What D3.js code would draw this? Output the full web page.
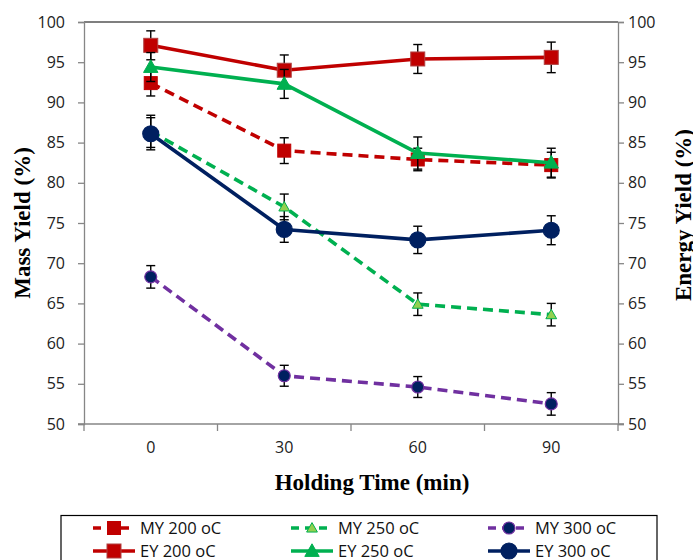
<!DOCTYPE html>
<html><head><meta charset="utf-8">
<script src="https://cdn.jsdelivr.net/npm/d3@7"></script>
<style>body{margin:0;background:#fff}svg{display:block}</style>
</head><body>
<script>
const categories = ["0","30","60","90"];
const yTicks = [50,55,60,65,70,75,80,85,90,95,100];
const seriesNames = ["MY 200 oC","MY 250 oC","MY 300 oC","EY 200 oC","EY 250 oC","EY 300 oC"];
const my200 = [92.4, 84.0, 82.9, 82.2];
const my250 = [86.4, 77.0, 64.9, 63.6];
const my300 = [68.3, 56.0, 54.6, 52.5];
const ey200 = [97.1, 94.0, 95.4, 95.6];
const ey250 = [94.4, 92.3, 83.7, 82.5];
const ey300 = [86.1, 74.2, 72.9, 74.1];
const my200Err = [1.6, 1.6, 1.4, 1.6];
const my250Err = [2.0, 1.6, 1.4, 1.4];
const my300Err = [1.4, 1.3, 1.3, 1.4];
const ey200Err = [1.8, 1.9, 1.8, 1.9];
const ey250Err = [1.8, 1.8, 2.0, 1.8];
const ey300Err = [2.0, 1.6, 1.7, 1.8];

const W = 693, H = 560;
const L = 84, R = 618, T = 22, B = 424;
const svg = d3.select("body").append("svg").attr("width", W).attr("height", H);
const x = d3.scaleBand().domain(categories).range([L, R]).padding(0);
const y = d3.scaleLinear().domain([50, 100]).range([B, T]);
const cx = c => x(c) + x.bandwidth() / 2;
const tickFont = "'Open Sans', sans-serif";
const axisCol = "#868686";

// top border
svg.append("line").attr("x1", L).attr("x2", R).attr("y1", T).attr("y2", T).attr("stroke", "#000").attr("stroke-width", 1.2);

const gl = svg.append("g").attr("transform", `translate(${L},0)`)
  .call(d3.axisLeft(y).tickValues(yTicks).tickSize(6).tickPadding(13));
const gr = svg.append("g").attr("transform", `translate(${R},0)`)
  .call(d3.axisRight(y).tickValues(yTicks).tickSize(6).tickPadding(4));
const gb = svg.append("g").attr("transform", `translate(0,${B})`)
  .call(d3.axisBottom(x).tickSize(0).tickPadding(18));
[gl, gr, gb].forEach(g => {
  g.selectAll("path.domain").attr("stroke", axisCol).attr("stroke-width", 1.3);
  g.selectAll(".tick line").attr("stroke", axisCol).attr("stroke-width", 1.3);
  g.selectAll("text").attr("font-family", tickFont).attr("font-size", 16).attr("fill", "#222");
});
gb.select("path.domain").remove();
svg.append("line").attr("x1", L - 6).attr("x2", R + 6).attr("y1", B).attr("y2", B).attr("stroke", axisCol).attr("stroke-width", 1.3);
const bounds = categories.map(c => x(c)).concat([x(categories[categories.length - 1]) + x.bandwidth()]);
svg.selectAll("line.xt").data(bounds).join("line").attr("class", "xt")
  .attr("x1", d => d).attr("x2", d => d).attr("y1", B).attr("y2", B + 7)
  .attr("stroke", axisCol).attr("stroke-width", 1.3);

const titleFont = "'Liberation Serif', 'Times New Roman', serif";
svg.append("text").attr("x", 372).attr("y", 490).attr("text-anchor", "middle")
  .attr("font-family", titleFont).attr("font-weight", "bold").attr("font-size", 23).text("Holding Time (min)");
svg.append("text").attr("transform", `translate(30,223) rotate(-90)`).attr("text-anchor", "middle")
  .attr("font-family", titleFont).attr("font-weight", "bold").attr("font-size", 23).text("Mass Yield (%)");
svg.append("text").attr("transform", `translate(691,215) rotate(-90)`).attr("text-anchor", "middle")
  .attr("font-family", titleFont).attr("font-weight", "bold").attr("font-size", 23).text("Energy Yield (%)");

const series = [
  {name: seriesNames[0], vals: my200, err: my200Err, color: "#C00000", dash: "10,6", marker: "square", fill: "#C00000", stroke: "#C00000", size: 13},
  {name: seriesNames[1], vals: my250, err: my250Err, color: "#00B050", dash: "10,6", marker: "triangle", fill: "#92D050", stroke: "#00B050", size: 9},
  {name: seriesNames[2], vals: my300, err: my300Err, color: "#7030A0", dash: "10,6", marker: "circle", fill: "#002060", stroke: "#7030A0", size: 6},
  {name: seriesNames[3], vals: ey200, err: ey200Err, color: "#C00000", dash: null, marker: "square", fill: "#C00000", stroke: "#B04040", size: 14},
  {name: seriesNames[4], vals: ey250, err: ey250Err, color: "#00B050", dash: null, marker: "triangle", fill: "#00B050", stroke: "#00B050", size: 12},
  {name: seriesNames[5], vals: ey300, err: ey300Err, color: "#002060", dash: null, marker: "circle", fill: "#002060", stroke: "#002060", size: 8}
];

function drawMarker(g, s, px, py) {
  if (s.marker === "square") {
    g.append("rect").attr("x", px - s.size / 2).attr("y", py - s.size / 2).attr("width", s.size).attr("height", s.size)
      .attr("fill", s.fill).attr("stroke", s.stroke).attr("stroke-width", 1);
  } else if (s.marker === "triangle") {
    const h = s.size;
    g.append("path").attr("d", `M${px},${py - h * 0.6}L${px + h * 0.6},${py + h * 0.45}L${px - h * 0.6},${py + h * 0.45}Z`)
      .attr("fill", s.fill).attr("stroke", s.stroke).attr("stroke-width", 1);
  } else {
    g.append("circle").attr("cx", px).attr("cy", py).attr("r", s.size).attr("fill", s.fill).attr("stroke", s.stroke).attr("stroke-width", 1.2);
  }
}

const line = d3.line().x((d, i) => cx(categories[i])).y(d => y(d));
series.forEach(s => {
  const g = svg.append("g");
  g.append("path").attr("d", line(s.vals)).attr("fill", "none").attr("stroke", s.color).attr("stroke-width", 3.6)
    .attr("stroke-dasharray", s.dash).attr("stroke-linejoin", "round");
  s.vals.forEach((v, i) => {
    const px = cx(categories[i]);
    const y1 = y(v + s.err[i]), y2 = y(v - s.err[i]);
    g.append("line").attr("x1", px).attr("x2", px).attr("y1", y1).attr("y2", y2).attr("stroke", "#000").attr("stroke-width", 1.4);
    [y1, y2].forEach(yy => g.append("line").attr("x1", px - 4.5).attr("x2", px + 4.5).attr("y1", yy).attr("y2", yy).attr("stroke", "#000").attr("stroke-width", 1.4));
  });
  s.vals.forEach((v, i) => drawMarker(g, s, cx(categories[i]), y(v)));
});

// legend
svg.append("rect").attr("x", 61).attr("y", 515.5).attr("width", 596).attr("height", 60)
  .attr("fill", "#fff").attr("stroke", "#000").attr("stroke-width", 1.2);
const colX = [93, 291, 488];
const rowY = [528, 551];
series.forEach((s, k) => {
  const col = k % 3, row = Math.floor(k / 3);
  const lx = colX[col], ly = rowY[row];
  const g = svg.append("g");
  g.append("line").attr("x1", lx).attr("x2", lx + 42).attr("y1", ly).attr("y2", ly)
    .attr("stroke", s.color).attr("stroke-width", 3.6).attr("stroke-dasharray", s.dash ? "8,6" : null);
  drawMarker(g, s, lx + 21, ly);
  g.append("text").attr("x", lx + 47).attr("y", ly).attr("dy", "0.35em")
    .attr("font-family", tickFont).attr("font-size", 16.5).attr("fill", "#111").text(s.name);
});
</script>
</body></html>
